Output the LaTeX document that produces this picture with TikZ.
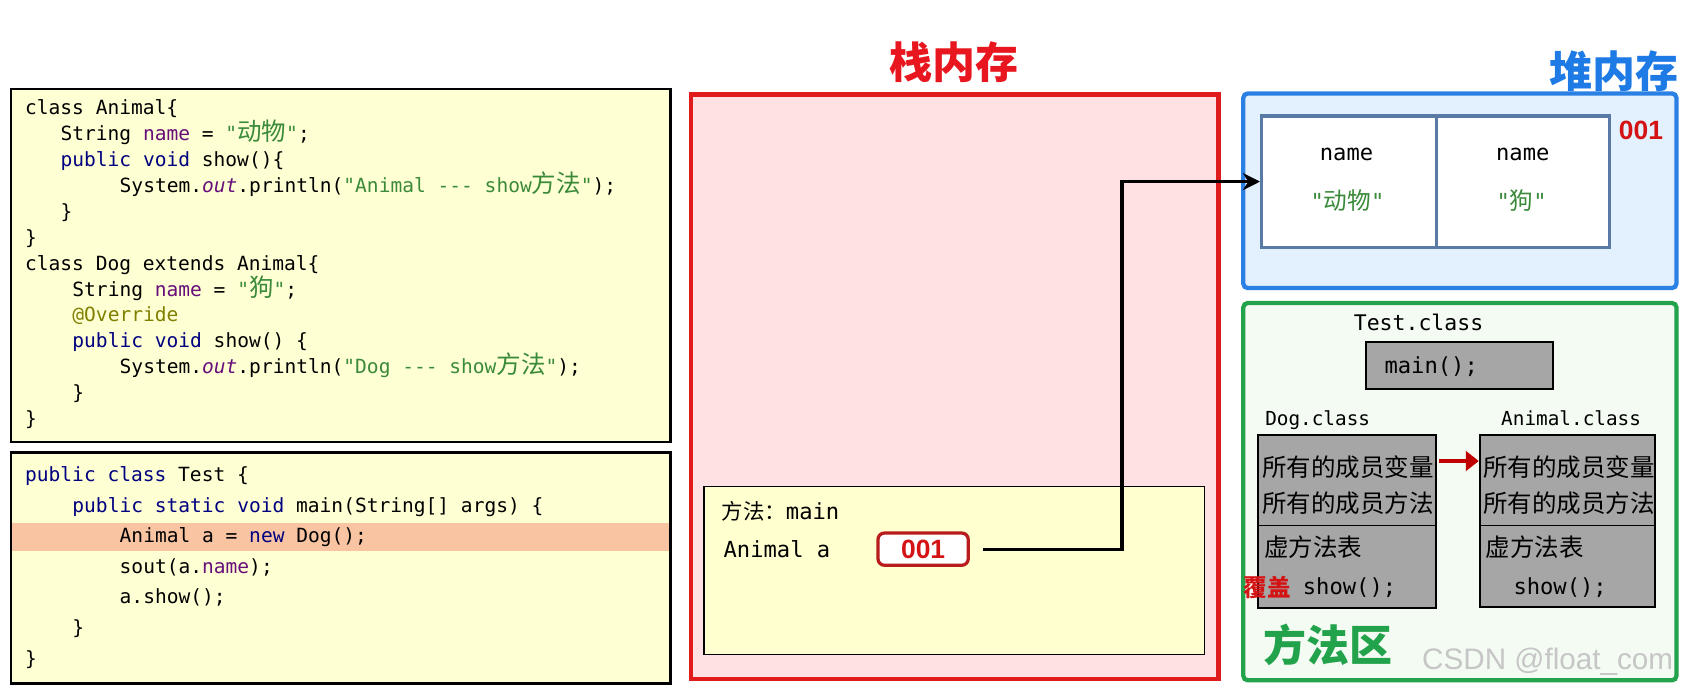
\documentclass[tikz,border=0pt]{standalone}
\usepackage{fontspec}
\setmainfont{Liberation Sans}
\newfontfamily\cjk{Noto Sans CJK SC}
\newfontfamily\mono{DejaVu Sans Mono}
\usetikzlibrary{fit,arrows.meta,calc}
\definecolor{codebg}{HTML}{FFFFD4}
\definecolor{hlc}{HTML}{F9C4A2}
\definecolor{kwc}{HTML}{000080}
\definecolor{fldc}{HTML}{660E7A}
\definecolor{strc}{HTML}{3A8A3A}
\definecolor{annc}{HTML}{808000}
\definecolor{stackred}{HTML}{E01B1B}
\definecolor{stackbg}{HTML}{FFE1E3}
\definecolor{framebg}{HTML}{FFFFD0}
\definecolor{heapblue}{HTML}{2B80E3}
\definecolor{heapbg}{HTML}{E3F0FD}
\definecolor{objborder}{HTML}{5A7AA6}
\definecolor{greenb}{HTML}{23A34B}
\definecolor{greenbg}{HTML}{F3FBF3}
\definecolor{grayfill}{HTML}{A6A6A6}
\definecolor{darkred}{HTML}{C00000}
\definecolor{refred}{HTML}{B81C1C}
\definecolor{numred}{HTML}{D41414}
\definecolor{titlered}{HTML}{E8161E}
\definecolor{titleblue}{HTML}{1E7BE5}
\definecolor{titlegreen}{HTML}{22A24A}
\newcommand\Jkw[1]{\textcolor{kwc}{#1}}
\newcommand\Jfld[1]{\textcolor{fldc}{#1}}
\newcommand\Jstr[1]{\textcolor{strc}{#1}}
\newcommand\Jann[1]{\textcolor{annc}{#1}}
\newcommand\cjkc[1]{{\cjk\fontsize{11.4}{10}\selectfont #1}}
\tikzset{
  codebox/.style={draw=black, line width=1pt, fill=codebg, inner sep=0pt},
  cl/.style={anchor=west, inner sep=0pt, font=\mono\fontsize{9.1}{10}\selectfont, text height=7pt, text depth=2pt},
  title/.style={inner sep=0pt, font=\cjk\bfseries\fontsize{20}{20}\selectfont},
  lbl/.style={inner sep=0pt, font=\mono\fontsize{10.3}{11}\selectfont},
  cjklbl/.style={anchor=west, inner sep=0pt, font=\cjk\fontsize{11.4}{12}\selectfont},
  graybox/.style={draw=black, line width=0.9pt, fill=grayfill, inner sep=0pt},
  cell/.style={draw=objborder, line width=1.5pt, fill=white, inner sep=0pt},
  num/.style={inner sep=0pt, font=\bfseries\fontsize{12.3}{13}\selectfont, text=numred},
}
\begin{document}
\begin{tikzpicture}[x=0.5pt, y=-0.5pt]
\fill[white] (0,0) rectangle (1568,644);
\useasboundingbox (0,0) rectangle (1568,644);

% ---------- code box 1 ----------
\node[codebox, fit={(10,83)(624,411)}] (code1) {};
\node[cl] (a1) at (23,102) {class Animal\{};
\node[cl] (a2) at (56,126.1) {String \Jfld{name} = \Jstr{"\cjkc{动物}"};};
\node[cl] (a3) at (56,150.2) {\Jkw{public void} show()\{};
\node[cl] (a4) at (111,174.2) {System.\Jfld{\itshape out}.println(\Jstr{"Animal -{}-{}- show\cjkc{方法}"});};
\node[cl] (a5) at (56,198.3) {\}};
\node[cl] (a6) at (23,222.4) {\}};
\node[cl] (a7) at (23,246.5) {class Dog extends Animal\{};
\node[cl] (a8) at (67,270.6) {String \Jfld{name} = \Jstr{"\cjkc{狗}"};};
\node[cl] (a9) at (67,294.6) {\Jann{@Override}};
\node[cl] (a10) at (67,318.7) {\Jkw{public void} show() \{};
\node[cl] (a11) at (111,342.8) {System.\Jfld{\itshape out}.println(\Jstr{"Dog -{}-{}- show\cjkc{方法}"});};
\node[cl] (a12) at (67,366.9) {\}};
\node[cl] (a13) at (23,391) {\}};

% ---------- code box 2 ----------
\node[codebox, fit={(10,421)(624,636)}] (code2) {};
\node[fill=hlc, inner sep=0pt, fit={(11,487)(623,513)}] (hl) {};
\node[cl] (b1) at (23,443) {\Jkw{public class} Test \{};
\node[cl] (b2) at (67,471.5) {\Jkw{public static void} main(String[] args) \{};
\node[cl] (b3) at (111,500) {Animal a = \Jkw{new} Dog();};
\node[cl] (b4) at (111,528.5) {sout(a.\Jfld{name});};
\node[cl] (b5) at (111,557) {a.show();};
\node[cl] (b6) at (67,585.5) {\}};
\node[cl] (b7) at (23,614) {\}};

% ---------- stack ----------
\node[title, text=titlered] (stacktitle) at (888,58) {栈内存};
\node[draw=stackred, line width=2pt, fill=stackbg, inner sep=0pt, fit={(643,88)(1134,632)}] (stack) {};
\node[draw=black, line width=0.6pt, fill=framebg, inner sep=0pt, fit={(655,453)(1121,609)}] (frame) {};
\node[lbl, anchor=west] (mlabel) at (671,476) {{\cjk\fontsize{10}{10}\selectfont 方法：}main};
\node[lbl, anchor=west] (avar) at (673,511) {Animal a};
\node[draw=refred, line width=1.5pt, rounded corners=3pt, fill=white, minimum width=42pt, minimum height=15pt, inner sep=0pt, font=\bfseries\fontsize{12.3}{13}\selectfont, text=numred] (ref) at (859,511) {001};

% ---------- heap ----------
\node[title, text=titleblue, anchor=east] (heaptitle) at (1562,66) {堆内存};
\node[draw=heapblue, line width=2pt, fill=heapbg, rounded corners=2pt, inner sep=0pt, fit={(1157,87)(1560,268)}] (heap) {};
\node[cell, fit={(1174,108)(1337,230)}] (obj1) {};
\node[cell, fit={(1337,108)(1498,230)}] (obj2) {};
\node[lbl] (n1) at (1253,144) {name};
\node[lbl] (n2) at (1417,144) {name};
\node[lbl, text=strc] (v1) at (1254,187) {"{\cjk\fontsize{11}{11}\selectfont 动物}"};
\node[lbl, text=strc] (v2) at (1416,187) {"{\cjk\fontsize{11}{11}\selectfont 狗}"};
\node[num] (addr) at (1527,121) {001};

% ---------- method area ----------
\node[draw=greenb, line width=2pt, fill=greenbg, rounded corners=2pt, inner sep=0pt, fit={(1157,282)(1560,633)}] (marea) {};
\node[lbl, font=\mono\fontsize{10}{11}\selectfont] (testcls) at (1320,300) {Test.class};
\node[graybox, fit={(1271,318)(1445,362)}] (mainbox) {};
\node[lbl, anchor=west] (maintxt) at (1288,341) {main();};
\node[lbl, anchor=west, font=\mono\fontsize{9}{10}\selectfont] (dogcls) at (1177,391) {Dog.class};
\node[lbl, font=\mono\fontsize{9}{10}\selectfont] (animcls) at (1462,389) {Animal.class};
\node[graybox, fit={(1171,405)(1336,489)}] (dogU) {};
\node[graybox, fit={(1171,489)(1336,566)}] (dogL) {};
\node[graybox, fit={(1377,405)(1540,489)}] (animU) {};
\node[graybox, fit={(1377,489)(1540,565)}] (animL) {};
\node[cjklbl] (d1) at (1174,435) {所有的成员变量};
\node[cjklbl] (d2) at (1174,468) {所有的成员方法};
\node[cjklbl] (d3) at (1176,509) {虚方法表};
\node[cjklbl, font=\cjk\bfseries\fontsize{11}{12}\selectfont, text=numred] (cover) at (1157,547) {覆盖};
\node[lbl, anchor=west] (d4) at (1212,547) {show();};
\node[cjklbl] (e1) at (1380,435) {所有的成员变量};
\node[cjklbl] (e2) at (1380,468) {所有的成员方法};
\node[cjklbl] (e3) at (1382,509) {虚方法表};
\node[lbl, anchor=west] (e4) at (1408,547) {show();};
\node[title, text=titlegreen, anchor=west] (matitle) at (1175,600) {方法区};
\node[anchor=west, inner sep=0pt, text=gray!45, font=\fontsize{13.8}{14}\selectfont] (wm) at (1323,616) {CSDN @float\_com};

% ---------- connectors ----------
\coordinate (bend) at (1044,169);
\draw[line width=1.5pt, -{Stealth[length=8pt,width=8pt]}, shorten <=6pt] (ref.east) -| (bend) -- (obj1.west);
\draw[darkred, line width=2pt, -{Triangle[length=6pt,width=9pt]}] ($(dogU.east)+(2,-18)$) -- ($(animU.west)+(0,-18)$);
\end{tikzpicture}
\end{document}
